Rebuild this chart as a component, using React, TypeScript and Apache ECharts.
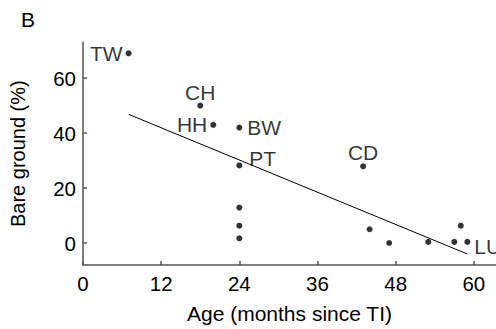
import React, { useEffect, useRef } from "react";
import * as echarts from "echarts";

const ages = [7, 18, 20, 24, 24, 24, 24, 24, 43, 44, 47, 53, 57, 58, 59];
const bareGround = [69, 50, 43, 42, 28.2, 12.9, 6.3, 1.7, 27.9, 5, 0, 0.4, 0.4, 6.3, 0.4];
const siteLabels = ["TW", "CH", "HH", "BW", "PT", "", "", "", "CD", "", "", "", "", "", "LU"];
const labelSides = ["left", "top", "left", "right", "pt", "", "", "", "top", "", "", "", "", "", "lu"];
const fitX = [7, 59];
const fitY = [46.8, -4.0];
const xTicks = [0, 12, 24, 36, 48, 60];
const yTicks = [0, 20, 40, 60];

const FONT = "Liberation Sans, Arial, Helvetica, sans-serif";

export default function App() {
  const ref = useRef<HTMLDivElement>(null);
  useEffect(() => {
    if (!ref.current) return;
    const chart = echarts.init(ref.current, null, { renderer: "svg" });
    const labelFor = (side: string) => {
      const base = { show: true, color: "#000", fontSize: 21, fontFamily: FONT };
      if (side === "left") return { ...base, position: "left", distance: 3 };
      if (side === "right") return { ...base, position: "right", distance: 5 };
      if (side === "top") return { ...base, position: "top", distance: 0 };
      if (side === "pt") return { ...base, position: "right", distance: 7, offset: [0, -7] };
      if (side === "lu") return { ...base, position: "right", distance: 4, offset: [0, 5] };
      return { show: false };
    };
    const pts = ages.map((a, i) => ({
      value: [a, bareGround[i]],
      name: siteLabels[i],
      label: { ...labelFor(labelSides[i]), formatter: siteLabels[i] },
    }));
    const axisLineStyle = { color: "#555", width: 1.5 };
    chart.setOption({
      animation: false,
      title: {
        text: "B",
        left: 16,
        top: 4,
        textStyle: { fontSize: 21, fontWeight: "normal", color: "#000", fontFamily: FONT },
      },
      grid: { left: 78.7, top: 42.3, right: 0, bottom: 60.3, containLabel: false },
      xAxis: {
        type: "value",
        min: 0,
        max: 63.4,
        name: "Age (months since TI)",
        nameLocation: "middle",
        nameGap: 38,
        nameTextStyle: { fontSize: 21, color: "#000", fontFamily: FONT },
        axisLine: { show: true, onZero: false, lineStyle: axisLineStyle },
        axisTick: { show: true, inside: true, length: 4, customValues: xTicks, lineStyle: axisLineStyle },
        axisLabel: { customValues: xTicks, fontSize: 20.5, color: "#000", fontFamily: FONT, margin: 8 },
        splitLine: { show: false },
      },
      yAxis: {
        type: "value",
        min: -8,
        max: 73,
        name: "Bare ground (%)",
        nameLocation: "middle",
        nameGap: 55,
        nameRotate: 90,
        nameTextStyle: { fontSize: 20, color: "#000", fontFamily: FONT },
        axisLine: { show: true, onZero: false, lineStyle: axisLineStyle },
        axisTick: { show: true, inside: true, length: 4, customValues: yTicks, lineStyle: axisLineStyle },
        axisLabel: { customValues: yTicks, fontSize: 20.5, color: "#000", fontFamily: FONT, margin: 7 },
        splitLine: { show: false },
      },
      series: [
        {
          type: "line",
          data: fitX.map((x, i) => [x, fitY[i]]),
          symbol: "none",
          lineStyle: { color: "#000", width: 1 },
          silent: true,
        },
        {
          type: "scatter",
          data: pts,
          symbol: "circle",
          symbolSize: 6,
          itemStyle: { color: "#000" },
        },
      ],
    });
    return () => chart.dispose();
  }, []);
  return <div ref={ref} style={{ position: "absolute", left: 0, top: 0, width: 496, height: 329 }} />;
}
